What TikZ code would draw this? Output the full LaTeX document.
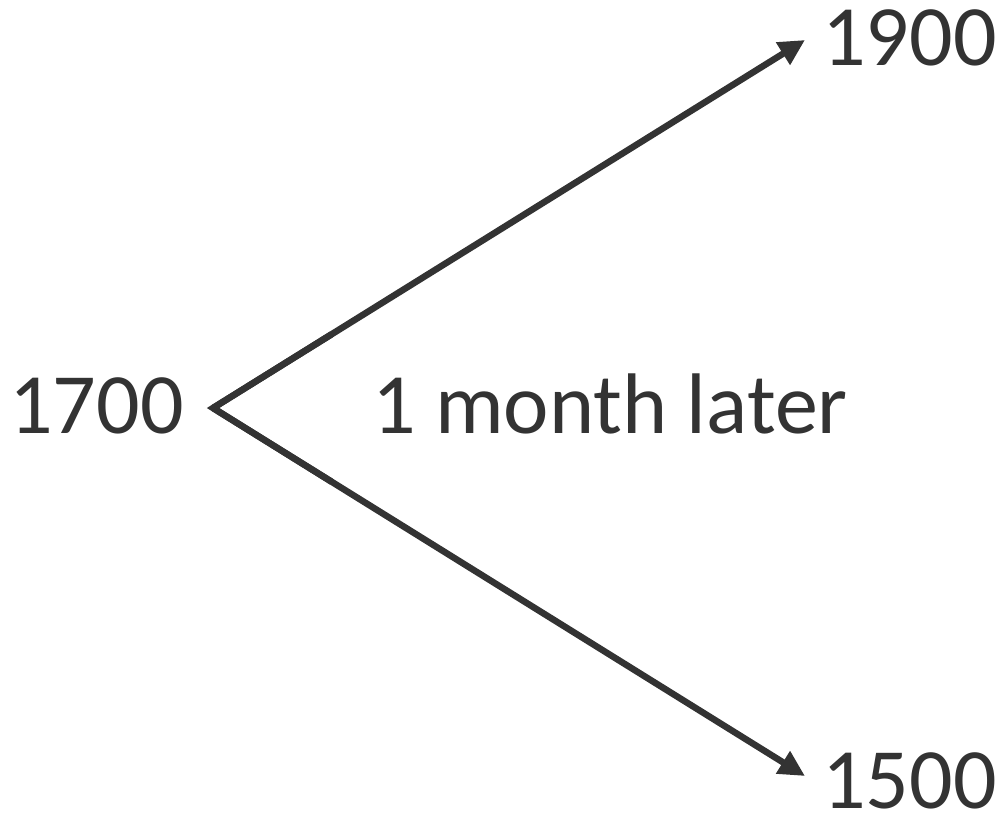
\documentclass[tikz,border=0pt]{standalone}
\usepackage{fontspec}
\setmainfont{Carlito}
\usetikzlibrary{arrows.meta,calc}
\definecolor{ink}{HTML}{333333}
\tikzset{
  lbl/.style={text=ink, inner sep=0pt, anchor=base west, font=\fontsize{86}{100}\selectfont},
  arr/.style={draw=ink, line width=6.5pt, -{Triangle[length=26pt,width=25pt]}}
}
\begin{document}
\begin{tikzpicture}[x=1pt,y=-1pt]
\useasboundingbox (0,0) rectangle (1000,822);
\node[lbl] (a) at (9,433) {1700};
\node[lbl] (m) at (372,433) {1 month later};
\node[lbl] (u) at (822,65) {1900};
\node[lbl] (d) at (822,808) {1500};
\coordinate (apex) at (213,408);
\coordinate (tu) at (805,40);
\coordinate (td) at (805,776);
\draw[draw=ink, line width=6.5pt, line join=miter] ($(apex)!0.2!(tu)$) -- (apex) -- ($(apex)!0.2!(td)$);
\draw[arr] (apex) -- (tu);
\draw[arr] (apex) -- (td);
\end{tikzpicture}
\end{document}
